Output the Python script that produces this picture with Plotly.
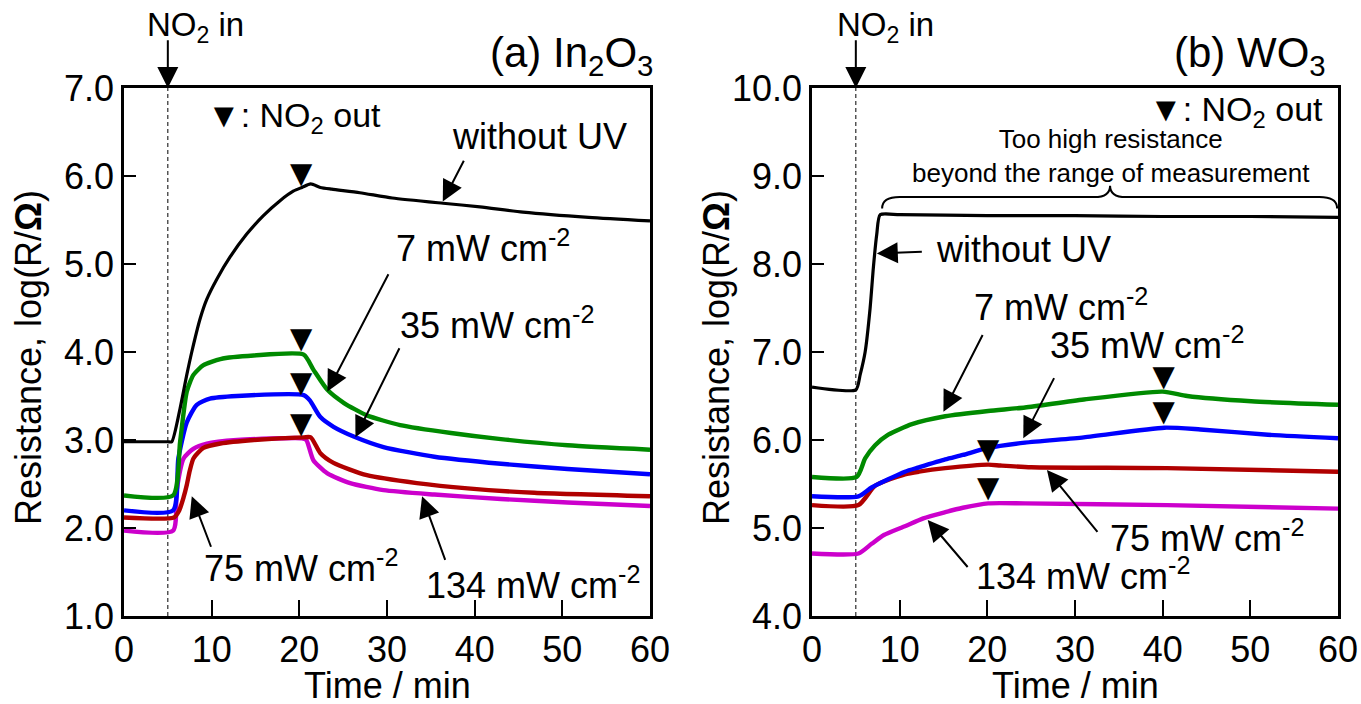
import plotly.graph_objects as go

# ---------------- (a) In2O3 : time (min) and log(R/Ohm) ----------------
t_a_dark = [0, 5.0, 5.45, 6.4, 7.16, 7.73, 8.69, 9.45, 10.6, 12.1, 14.0, 15.9, 17.8,
            19.35, 20.3, 21.3, 22.4, 23.7, 26.9, 30.6, 36.4, 40.6, 45.5, 53.0, 60.0]
r_a_dark = [2.98, 2.98, 2.98, 3.36, 3.74, 4.00, 4.38, 4.60, 4.83, 5.08, 5.34, 5.55, 5.72,
            5.83, 5.87, 5.91, 5.87, 5.85, 5.81, 5.75, 5.69, 5.65, 5.59, 5.53, 5.49]

t_a_7 = [0, 5.6, 6.4, 7.16, 7.92, 9.06, 11.0, 14.8, 20.5, 21.6, 23.2, 25.1, 27.7, 31.5,
         37.3, 43.0, 50.6, 60.0]
r_a_7 = [2.37, 2.37, 2.98, 3.55, 3.74, 3.85, 3.92, 3.96, 3.97, 3.80, 3.57, 3.42, 3.28, 3.17,
         3.08, 3.01, 2.94, 2.89]

t_a_35 = [0, 5.6, 6.2, 7.16, 8.3, 9.8, 12.9, 20.5, 21.2, 22.4, 23.9, 26.2, 29.6, 35.4,
          43.0, 50.6, 60.0]
r_a_35 = [2.20, 2.20, 2.79, 3.20, 3.40, 3.47, 3.50, 3.51, 3.45, 3.26, 3.15, 3.04, 2.92, 2.81,
          2.73, 2.67, 2.61]

t_a_75 = [0, 5.7, 6.3, 6.8, 7.16, 7.5, 7.92, 9.06, 11.0, 14.8, 20.5, 21.3, 22.4, 23.9,
          27.7, 33.4, 39.2, 46.8, 60.0]
r_a_75 = [2.12, 2.12, 2.20, 2.35, 2.49, 2.65, 2.79, 2.91, 2.96, 3.00, 3.03, 3.03, 2.85, 2.74,
          2.60, 2.51, 2.45, 2.40, 2.36]

t_a_134 = [0, 5.6, 6.0, 6.8, 7.9, 9.45, 12.9, 20.3, 20.8, 21.6, 23.2, 25.8, 29.6, 35.4,
           43.0, 50.6, 60.0]
r_a_134 = [1.97, 1.97, 2.42, 2.79, 2.90, 2.96, 3.00, 3.02, 3.00, 2.77, 2.62, 2.51, 2.43, 2.38,
           2.33, 2.29, 2.25]

# NO2-out markers for (a)
out_a_t = [20.2, 20.2, 20.2, 20.2]
out_a_r = [6.00, 4.13, 3.63, 3.16]

# ---------------- (b) WO3 : time (min) and log(R/Ohm) ----------------
t_b_dark = [0, 5.0, 5.49, 6.06, 6.63, 7.0, 7.39, 7.77, 10, 20, 30, 40, 50, 60]
r_b_dark = [6.60, 6.57, 6.74, 7.00, 7.50, 7.96, 8.34, 8.56, 8.56, 8.55, 8.55, 8.54, 8.54, 8.53]

t_b_7 = [0, 5.1, 6.06, 7.2, 8.7, 11.4, 15.2, 20.1, 24.3, 31.0, 40.0, 42.8, 50.1, 60]
r_b_7 = [5.58, 5.58, 5.79, 5.94, 6.06, 6.18, 6.27, 6.33, 6.37, 6.46, 6.55, 6.50, 6.44, 6.40]

t_b_35 = [0, 5.3, 6.8, 10.6, 12.2, 15.2, 17.2, 20.1, 24.3, 31.0, 40.2, 44.3, 52.0, 60]
r_b_35 = [5.36, 5.36, 5.46, 5.64, 5.69, 5.78, 5.83, 5.91, 5.97, 6.03, 6.14, 6.12, 6.06, 6.02]

t_b_75 = [0, 5.3, 7.2, 10.6, 12.2, 15.2, 20.1, 21.5, 25.0, 40.5, 60]
r_b_75 = [5.26, 5.26, 5.48, 5.61, 5.64, 5.68, 5.72, 5.71, 5.69, 5.68, 5.64]

t_b_134 = [0, 5.3, 6.8, 8.2, 10.6, 12.7, 15.2, 17.2, 20.1, 24.3, 40.5, 60]
r_b_134 = [4.71, 4.71, 4.82, 4.92, 5.02, 5.11, 5.18, 5.23, 5.28, 5.28, 5.26, 5.22]

# NO2-out markers for (b)
out_b_t = [40.1, 40.1, 20.1, 20.1]
out_b_r = [6.70, 6.30, 5.87, 5.43]

x_ticks = [0, 10, 20, 30, 40, 50, 60]
y_ticks_a = [1, 2, 3, 4, 5, 6, 7]
y_ticks_b = [4, 5, 6, 7, 8, 9, 10]

FONT = "Liberation Sans, Arial, Helvetica, sans-serif"
BLACK, GREEN, BLUE, RED, MAGENTA = "#000000", "#008a00", "#0000ff", "#b00000", "#cc00cc"

W, H = 1361, 704

fig = go.Figure()


def add_line(t, r, color, width, xa, ya):
    fig.add_trace(go.Scatter(x=t, y=r, mode="lines", xaxis=xa, yaxis=ya,
                             line=dict(color=color, width=width, shape="spline", smoothing=0.6),
                             showlegend=False, hoverinfo="skip"))


for xa, ya, series in [
    ("x", "y", [(t_a_134, r_a_134, MAGENTA), (t_a_75, r_a_75, RED), (t_a_35, r_a_35, BLUE),
                (t_a_7, r_a_7, GREEN)]),
    ("x2", "y2", [(t_b_134, r_b_134, MAGENTA), (t_b_75, r_b_75, RED), (t_b_35, r_b_35, BLUE),
                  (t_b_7, r_b_7, GREEN)]),
]:
    for t, r, c in series:
        add_line(t, r, c, 4.4, xa, ya)

add_line(t_a_dark, r_a_dark, BLACK, 3.2, "x", "y")
add_line(t_b_dark, r_b_dark, BLACK, 3.2, "x2", "y2")

# NO2-out triangles
for t, r, xa, ya in [(out_a_t, out_a_r, "x", "y"), (out_b_t, out_b_r, "x2", "y2")]:
    fig.add_trace(go.Scatter(x=t, y=r, mode="text", text=["▼"] * len(t), xaxis=xa, yaxis=ya,
                             textposition="middle center",
                             textfont=dict(family="DejaVu Sans", size=29, color="black"),
                             showlegend=False, hoverinfo="skip", cliponaxis=False))

# ---------------- axes ----------------
dom_y = [(H - 616) / H, (H - 88) / H]
axis_common = dict(showline=True, linecolor="black", linewidth=2.5, mirror=True,
                   ticks="inside", tickcolor="black", tickwidth=2, showgrid=False,
                   zeroline=False, automargin=False,
                   tickfont=dict(family=FONT, size=36, color="black"))

fig.update_layout(
    width=W, height=H, margin=dict(l=0, r=0, t=0, b=0, autoexpand=False),
    paper_bgcolor="white", plot_bgcolor="white",
    xaxis=dict(domain=[124 / W, 650 / W], range=[0, 60], tickvals=x_ticks, ticklen=16,
               anchor="y", **axis_common),
    yaxis=dict(domain=dom_y, range=[1, 7], tickvals=y_ticks_a, tickformat=".1f", ticklen=12,
               anchor="x", **axis_common),
    xaxis2=dict(domain=[812 / W, 1338 / W], range=[0, 60], tickvals=x_ticks, ticklen=16,
                anchor="y2", **axis_common),
    yaxis2=dict(domain=dom_y, range=[4, 10], tickvals=y_ticks_b, tickformat=".1f", ticklen=12,
                anchor="x2", **axis_common),
)

# NO2-in dashed guide lines
for xr, yr, y0, y1 in [("x", "y", 1, 7), ("x2", "y2", 4, 10)]:
    fig.add_shape(type="line", xref=xr, yref=yr, x0=5, x1=5, y0=y0, y1=y1,
                  line=dict(color="black", width=1, dash="4px,3px"), layer="below")

# brace over the saturated curve in (b)
fig.add_shape(type="path", xref="x2", yref="y2",
              path="M 8.0,8.63 Q 8.0,8.76 10.0,8.76 L 32.2,8.76 Q 34.0,8.76 34.0,8.89 "
                   "Q 34.0,8.76 35.8,8.76 L 57.9,8.76 Q 59.9,8.76 59.9,8.63",
              line=dict(color="black", width=2))

ann = []


def text(xr, yr, x, y, s, size=36, xanchor="center"):
    ann.append(dict(xref=xr, yref=yr, x=x, y=y, text=s, showarrow=False, xanchor=xanchor,
                    yanchor="middle", font=dict(family=FONT, size=size, color="black")))


def arrow(xr, yr, x, y, ax, ay):
    ann.append(dict(xref=xr, yref=yr, axref=xr, ayref=yr, x=x, y=y, ax=ax, ay=ay, text="",
                    showarrow=True, arrowhead=2, arrowsize=2.1, arrowwidth=2,
                    arrowcolor="black", standoff=0, startstandoff=0))


# panel (a)
text("x", "paper", 8.1, 1 - 27 / H, "NO<sub>2</sub> in", 33)
arrow("x", "y", 5, 7.0, 5, 7.56)
text("paper", "paper", 655 / W, 1 - 55 / H, "(a) In<sub>2</sub>O<sub>3</sub>", 42, "right")
text("x", "y", 9.25, 6.66, "▼: NO<sub>2</sub> out", 34, "left")
text("x", "y", 47.4, 6.45, "without UV")
arrow("x", "y", 36.36, 5.71, 38.85, 6.19)
text("x", "y", 41.0, 5.20, "7 mW cm<sup>-2</sup>")
arrow("x", "y", 23.2, 3.55, 30.25, 4.90)
text("x", "y", 42.6, 4.33, "35 mW cm<sup>-2</sup>")
arrow("x", "y", 26.4, 3.03, 31.5, 4.06)
text("x", "y", 20.2, 1.57, "75 mW cm<sup>-2</sup>")
arrow("x", "y", 7.73, 2.36, 9.99, 1.77)
text("x", "y", 46.6, 1.375, "134 mW cm<sup>-2</sup>")
arrow("x", "y", 34.0, 2.36, 36.7, 1.62)

# panel (b)
text("x2", "paper", 8.33, 1 - 27 / H, "NO<sub>2</sub> in", 33)
arrow("x2", "y2", 5, 10.0, 5, 10.56)
text("paper", "paper", 1328 / W, 1 - 55 / H, "(b) WO<sub>3</sub>", 42, "right")
text("x2", "y2", 58.56, 9.73, "▼: NO<sub>2</sub> out", 34, "right")
text("x2", "y2", 34.1, 9.23, "Too high resistance<br>beyond the range of measurement", 26)
text("x2", "y2", 24.1, 8.17, "without UV")
arrow("x2", "y2", 7.39, 8.12, 12.7, 8.14)
text("x2", "y2", 28.4, 7.53, "7 mW cm<sup>-2</sup>")
arrow("x2", "y2", 14.99, 6.32, 19.55, 7.21)
text("x2", "y2", 38.2, 7.1, "35 mW cm<sup>-2</sup>")
arrow("x2", "y2", 24.1, 6.02, 27.7, 6.72)
text("x2", "y2", 45.1, 4.91, "75 mW cm<sup>-2</sup>")
arrow("x2", "y2", 26.8, 5.66, 32.7, 4.94)
text("x2", "y2", 30.9, 4.48, "134 mW cm<sup>-2</sup>")
arrow("x2", "y2", 13.2, 5.09, 17.9, 4.54)

# axis titles
for px in (28, 716):
    ann.append(dict(xref="paper", yref="paper", x=px / W, y=1 - 358 / H, textangle=-90,
                    text="Resistance, log(R/<b>Ω</b>)", showarrow=False,
                    xanchor="center", yanchor="middle",
                    font=dict(family=FONT, size=36, color="black")))
for px in (387, 1075):
    ann.append(dict(xref="paper", yref="paper", x=px / W, y=1 - 685 / H, text="Time / min",
                    showarrow=False, xanchor="center", yanchor="middle",
                    font=dict(family=FONT, size=36, color="black")))

fig.update_layout(annotations=ann)
fig.write_html("out.html")
